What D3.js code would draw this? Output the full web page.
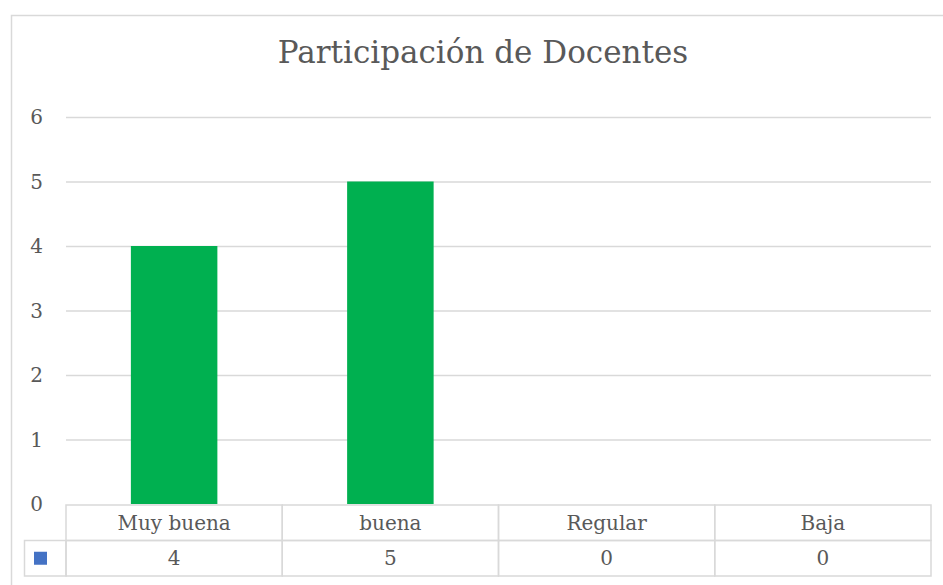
<!DOCTYPE html>
<meta charset="utf-8">
<head>
<style>
body { margin: 0; background: #fff; }
text { font-family: "DejaVu Serif", serif; fill: #595959; }
.grid line { stroke: #d9d9d9; stroke-width: 1.5px; }
.grid path { display: none; }
.cell { stroke: #d9d9d9; stroke-width: 1.5px; fill: none; }
</style>
<script src="https://d3js.org/d3.v7.min.js"></script>
<title>Participación de Docentes</title>
</head>
<body>
<script>

// data
var title = "Participación de Docentes";
var categories = ["Muy buena", "buena", "Regular", "Baja"];
var values = [4, 5, 0, 0];
var yTicks = [0, 1, 2, 3, 4, 5, 6];

var W = 943, H = 585;
var plotLeft = 66, plotRight = 931, plotTop = 117, plotBottom = 504;
var rowH = 35.5;

var svg = d3.select("body").append("svg")
    .attr("width", W)
    .attr("height", H);

// chart border
svg.append("rect")
    .attr("x", 11.5).attr("y", 15.5)
    .attr("width", 940).attr("height", 580)
    .attr("fill", "none")
    .attr("stroke", "#d9d9d9")
    .attr("stroke-width", 1.5);

var x = d3.scaleBand().domain(categories).range([plotLeft, plotRight])
    .paddingInner(0.6).paddingOuter(0.3);
var cols = d3.scaleBand().domain(categories).range([plotLeft, plotRight]);
var y = d3.scaleLinear().domain([0, 6]).range([plotBottom, plotTop]);

// title
svg.append("text")
    .attr("x", 483).attr("y", 63)
    .attr("text-anchor", "middle")
    .style("font-size", "31px")
    .text(title);

// gridlines
svg.append("g")
    .attr("class", "grid")
    .attr("transform", "translate(" + plotLeft + ",0)")
    .call(d3.axisRight(y).tickValues(yTicks.slice(1)).tickSize(plotRight - plotLeft).tickFormat(""));

// y labels
svg.append("g").selectAll("text")
    .data(yTicks)
  .enter().append("text")
    .attr("x", 43)
    .attr("y", d => y(d))
    .attr("dy", "0.35em")
    .attr("text-anchor", "end")
    .style("font-size", "20px")
    .text(d => d);

// bars
svg.append("g").selectAll("rect")
    .data(values)
  .enter().append("rect")
    .attr("x", (d, i) => x(categories[i]))
    .attr("y", d => y(d))
    .attr("width", x.bandwidth())
    .attr("height", d => y(0) - y(d))
    .attr("fill", "#00b050");

// data table
var t0 = plotBottom + 1;
var table = svg.append("g");
table.selectAll(".cat")
    .data(categories)
  .enter().append("rect")
    .attr("class", "cell")
    .attr("x", d => cols(d))
    .attr("y", t0)
    .attr("width", cols.bandwidth())
    .attr("height", rowH);
table.selectAll(".val")
    .data(categories)
  .enter().append("rect")
    .attr("class", "cell")
    .attr("x", d => cols(d))
    .attr("y", t0 + rowH)
    .attr("width", cols.bandwidth())
    .attr("height", rowH);
table.append("rect")
    .attr("class", "cell")
    .attr("x", 24.5)
    .attr("y", t0 + rowH)
    .attr("width", plotLeft - 24.5)
    .attr("height", rowH);

table.selectAll(".catLabel")
    .data(categories)
  .enter().append("text")
    .attr("x", d => cols(d) + cols.bandwidth() / 2)
    .attr("y", t0 + rowH / 2)
    .attr("dy", "0.35em")
    .attr("text-anchor", "middle")
    .style("font-size", "20px")
    .text(d => d);

table.selectAll(".valLabel")
    .data(values)
  .enter().append("text")
    .attr("x", (d, i) => cols(categories[i]) + cols.bandwidth() / 2)
    .attr("y", t0 + rowH * 1.5)
    .attr("dy", "0.35em")
    .attr("text-anchor", "middle")
    .style("font-size", "20px")
    .text(d => d);

// legend key
table.append("rect")
    .attr("x", 34).attr("y", t0 + rowH * 1.5 - 6.5)
    .attr("width", 13).attr("height", 13)
    .attr("fill", "#4472c4");

</script>
</body>
</html>
